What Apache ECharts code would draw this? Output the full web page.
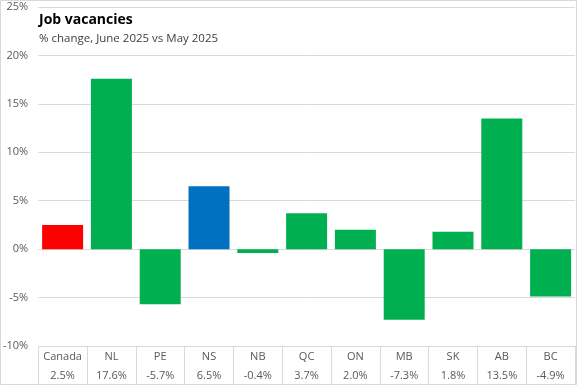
<!DOCTYPE html>
<html><head><meta charset="utf-8">
<script src="https://cdn.jsdelivr.net/npm/echarts@6/dist/echarts.min.js"></script>
<style>html,body{margin:0;padding:0;background:#fff}#c{width:577px;height:385px}</style>
</head><body><div id="c"></div>
<script>
const categories = ['Canada','NL','PE','NS','NB','QC','ON','MB','SK','AB','BC'];
const values = [2.5, 17.6, -5.7, 6.5, -0.4, 3.7, 2.0, -7.3, 1.8, 13.5, -4.9];
const colors = ['#FF0000','#00B050','#00B050','#0070C0','#00B050','#00B050','#00B050','#00B050','#00B050','#00B050','#00B050'];
const yTicks = {min: -10, max: 25, interval: 5};
const fontFam = '"Open Sans", sans-serif';
const chart = echarts.init(document.getElementById('c'), null, {renderer: 'canvas'});
chart.setOption({
  animation: false,
  backgroundColor: '#fff',
  title: {
    text: 'Job vacancies',
    subtext: '% change, June 2025 vs May 2025',
    left: 34, top: 8, itemGap: 6,
    textStyle: {fontFamily: fontFam, fontSize: 14, fontWeight: 'bold', color: '#000'},
    subtextStyle: {fontFamily: fontFam, fontSize: 11.5, color: '#404040'}
  },
  grid: {left: 38, right: 2, top: 7, bottom: 39, containLabel: false},
  xAxis: [{
    type: 'category', data: categories, position: 'bottom',
    axisLine: {show: true, onZero: false, lineStyle: {color: '#D9D9D9'}},
    axisTick: {show: true, interval: 0, length: 38, lineStyle: {color: '#D9D9D9'}},
    axisLabel: {
      interval: 0, margin: 1, lineHeight: 19, fontFamily: fontFam, fontSize: 11, color: '#595959',
      formatter: function (v, i) { return v + '\n' + values[i].toFixed(1) + '%'; }
    }
  }, {
    type: 'category', data: categories, position: 'bottom', offset: 38,
    axisLine: {show: true, onZero: false, lineStyle: {color: '#D9D9D9'}},
    axisTick: {show: false}, axisLabel: {show: false}
  }],
  yAxis: {
    type: 'value', min: yTicks.min, max: yTicks.max, interval: yTicks.interval,
    axisLine: {show: false}, axisTick: {show: false},
    splitLine: {lineStyle: {color: '#D9D9D9'}},
    axisLabel: {formatter: '{value}%', margin: 10, fontFamily: fontFam, fontSize: 11, color: '#595959'}
  },
  series: [{
    type: 'bar', xAxisIndex: 0, barCategoryGap: '16%',
    data: values.map((v, i) => ({value: v, itemStyle: {color: colors[i]}}))
  }],
  graphic: [{
    type: 'rect', shape: {x: 0.5, y: 0.5, width: 576, height: 384},
    style: {fill: 'none', stroke: '#D9D9D9', lineWidth: 1}, silent: true, z: 100
  }]
});
</script></body></html>
